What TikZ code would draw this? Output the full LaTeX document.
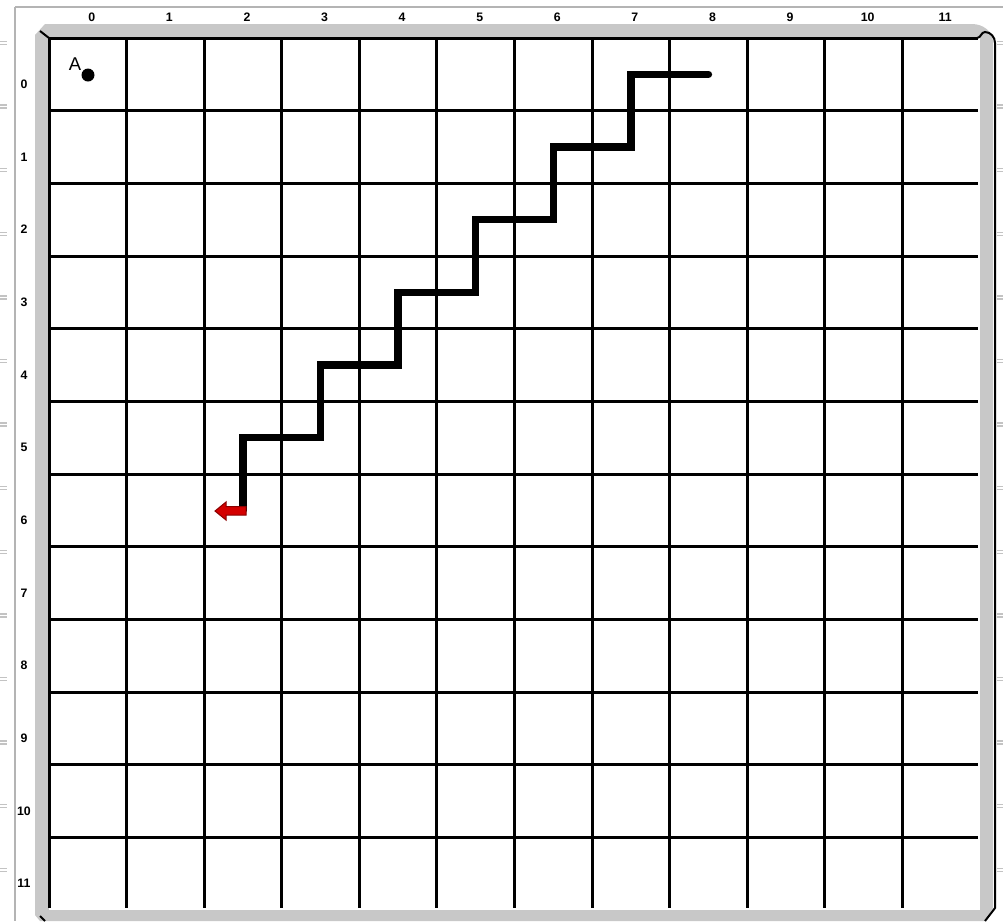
\documentclass[tikz,border=0pt]{standalone}
\usepackage{fontspec}
\setmainfont{Liberation Sans}
\definecolor{bandgray}{HTML}{C8C8C8}
\definecolor{rulegray}{HTML}{B4B4B4}
\definecolor{arrowred}{HTML}{D40000}
\definecolor{arrowdark}{HTML}{8A0000}
\tikzset{
  gridline/.style={line width=0.06cm, black},
  stairline/.style={line width=0.15cm, black, line cap=round, line join=miter},
  rulerline/.style={line width=0.03cm, rulegray},
  ticker/.style={line width=0.025cm, rulegray!80},
  framebevel/.style={line width=0.04cm, black},
  axislabel/.style={font=\fontsize{7}{8}\selectfont\bfseries, inner sep=0pt},
  pointlabel/.style={font=\fontsize{10.5}{12}\selectfont, inner sep=0pt},
  pointdot/.style={circle, fill=black, minimum size=0.26cm, inner sep=0pt},
}
\begin{document}
\begin{tikzpicture}[x=0.02cm, y=-0.02cm]
\useasboundingbox (0,0) rectangle (1003,921);
\fill[white] (0,0) rectangle (1003,921);
% thin ruler lines
\draw[rulerline] (15,7) -- (1003,7);
\draw[rulerline] (15,7) -- (15,921);
% ruler ticks
\foreach \k in {0,...,13} {
  \draw[ticker] (0,{43+63.6*\k-1.5}) -- (7,{43+63.6*\k-1.5});
  \draw[ticker] (0,{43+63.6*\k+1.5}) -- (7,{43+63.6*\k+1.5});
  \draw[ticker] (997,{43+63.6*\k-1.5}) -- (1003,{43+63.6*\k-1.5});
  \draw[ticker] (997,{43+63.6*\k+1.5}) -- (1003,{43+63.6*\k+1.5});
}
% gray frame
\fill[bandgray] (35,35) -- (45,24) -- (972,24) to[out=0,in=90] (993,42) -- (993,908) -- (985,921) -- (40,921) -- (35,915) -- cycle;
\fill[white] (49,38) rectangle (980,910);
% grid lines
\foreach \i in {0,...,11} {
  \draw[gridline] ({49+77.58*\i},38) -- ({49+77.58*\i},908);
}
\foreach \j in {0,...,11} {
  \draw[gridline] (49,{38+72.67*\j}) -- (978,{38+72.67*\j});
}
% frame bevel lines
\draw[framebevel] (40,31) -- (49,38);
\draw[framebevel] (40,916) -- (45,921);
\draw[framebevel] (977,38) to[out=0,in=180] (985,32) to[out=0,in=90] (995,43) -- (995,908) -- (985,921);
% axis labels
\foreach \i in {0,...,11} {
  \node[axislabel] (col\i) at ({49+77.58*(\i+0.5)+4},17) {\i};
}
\foreach \j in {0,...,11} {
  \node[axislabel] (row\j) at (24,{38+72.67*(\j+0.5)+10}) {\j};
}
% point A
\node[pointdot] (dotA) at (88,75) {};
\node[pointlabel] (labelA) at (75,64) {A};
% staircase
\coordinate (s0) at (708.4,74.3);
\coordinate (s1) at (630.9,74.3);
\coordinate (s2) at (630.9,147.0);
\coordinate (s3) at (553.3,147.0);
\coordinate (s4) at (553.3,219.7);
\coordinate (s5) at (475.7,219.7);
\coordinate (s6) at (475.7,292.3);
\coordinate (s7) at (398.1,292.3);
\coordinate (s8) at (398.1,365.0);
\coordinate (s9) at (320.5,365.0);
\coordinate (s10) at (320.5,437.7);
\coordinate (s11) at (243.0,437.7);
\coordinate (s12) at (243.0,510.3);
\draw[stairline] (s0) -- (s1) -- (s2) -- (s3) -- (s4) -- (s5) -- (s6) -- (s7) -- (s8) -- (s9) -- (s10) -- (s11) -- (s12);
% red arrow
\filldraw[fill=arrowred, draw=arrowdark, line width=0.02cm, line join=miter]
  (246,506.5) -- (226,506.5) -- (226,502) -- (215,511) -- (226,520) -- (226,515) -- (246,515) -- cycle;
\end{tikzpicture}
\end{document}
